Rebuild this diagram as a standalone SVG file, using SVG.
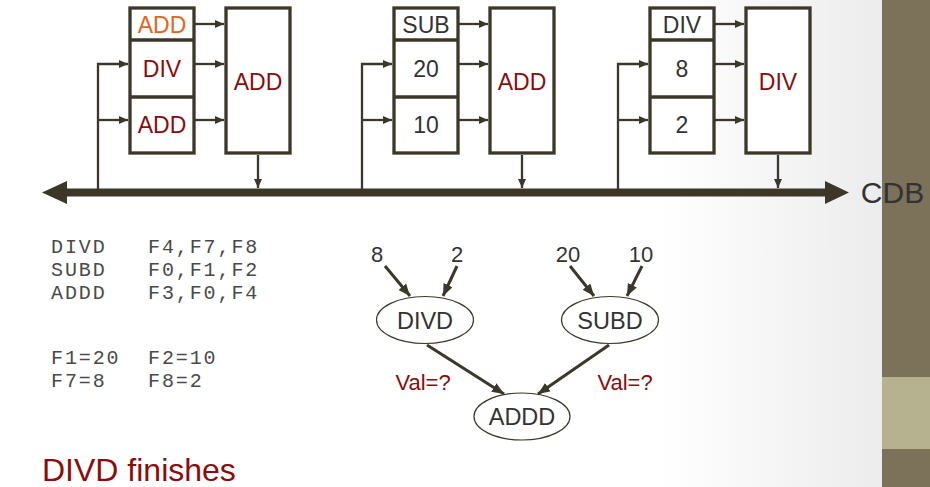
<svg xmlns="http://www.w3.org/2000/svg" width="930" height="487" viewBox="0 0 930 487">
<style>
.box{fill:#fff;stroke:#3b3829;stroke-width:3.3}
.div{stroke:#3b3829;stroke-width:3.3}
.wire{fill:none;stroke:#3b3829;stroke-width:2.3}
.edge{fill:none;stroke:#3b3829;stroke-width:3}
.ell{fill:#fff;stroke:#3b3829;stroke-width:1.2}
.t{font-family:"Liberation Sans",Arial,sans-serif;text-anchor:middle}
.bx{font-size:23px}
.gl{font-size:23.5px}
.num{font-size:22px}
.dk{fill:#333}
.rd{fill:#8c0c0c}
.or{fill:#e2661c}
.mono{font-family:"Liberation Mono","Courier New",monospace;font-size:20px;letter-spacing:1.9px;fill:#4a4a4a}
</style>
<defs>
<linearGradient id="bg" x1="0" y1="0" x2="1" y2="0">
<stop offset="0" stop-color="#fff"/>
<stop offset="0.75" stop-color="#fff"/>
<stop offset="1" stop-color="#ececec"/>
</linearGradient>
<marker id="ah" markerUnits="userSpaceOnUse" markerWidth="10" markerHeight="10" refX="9" refY="4" orient="auto">
<path d="M0,0 L9,4 L0,8 z" fill="#3b3829"/>
</marker>
<marker id="ag" markerUnits="userSpaceOnUse" markerWidth="14" markerHeight="12" refX="12" refY="5" orient="auto">
<path d="M0,0 L12,5 L0,10 z" fill="#3b3829"/>
</marker>
</defs>
<rect x="0" y="0" width="882" height="487" fill="url(#bg)"/>
<g id="sidebar">
<rect x="882" y="0" width="48" height="377" fill="#7b7259"/>
<rect x="882" y="377" width="48" height="72" fill="#b6b18f"/>
<rect x="882" y="449" width="48" height="38" fill="#7b7259"/>
</g>

<g id="connectors">
<!-- CDB bus -->
<line x1="64" y1="192.5" x2="828" y2="192.5" stroke="#3b3829" stroke-width="8"/>
<polygon points="42,192.5 67,181 67,204" fill="#3b3829"/>
<polygon points="849,192.5 825,181 825,204" fill="#3b3829"/>
<!-- left unit -->
<polyline class="wire" points="98,192 98,64 128,64" marker-end="url(#ah)"/>
<line class="wire" x1="98" y1="120" x2="128" y2="120" marker-end="url(#ah)"/>
<line class="wire" x1="195" y1="24" x2="224" y2="24" marker-end="url(#ah)"/>
<line class="wire" x1="195" y1="64" x2="224" y2="64" marker-end="url(#ah)"/>
<line class="wire" x1="195" y1="120" x2="224" y2="120" marker-end="url(#ah)"/>
<line class="wire" x1="258" y1="155" x2="258" y2="188" marker-end="url(#ah)"/>
<!-- middle unit -->
<polyline class="wire" points="362,192 362,64 392,64" marker-end="url(#ah)"/>
<line class="wire" x1="362" y1="120" x2="392" y2="120" marker-end="url(#ah)"/>
<line class="wire" x1="459" y1="24" x2="488" y2="24" marker-end="url(#ah)"/>
<line class="wire" x1="459" y1="64" x2="488" y2="64" marker-end="url(#ah)"/>
<line class="wire" x1="459" y1="120" x2="488" y2="120" marker-end="url(#ah)"/>
<line class="wire" x1="522" y1="155" x2="522" y2="188" marker-end="url(#ah)"/>
<!-- right unit -->
<polyline class="wire" points="618,192 618,64 648,64" marker-end="url(#ah)"/>
<line class="wire" x1="618" y1="120" x2="648" y2="120" marker-end="url(#ah)"/>
<line class="wire" x1="715" y1="24" x2="744" y2="24" marker-end="url(#ah)"/>
<line class="wire" x1="715" y1="64" x2="744" y2="64" marker-end="url(#ah)"/>
<line class="wire" x1="715" y1="120" x2="744" y2="120" marker-end="url(#ah)"/>
<line class="wire" x1="778" y1="155" x2="778" y2="188" marker-end="url(#ah)"/>
<!-- dataflow graph -->
<line class="edge" x1="385" y1="266" x2="410" y2="296" marker-end="url(#ag)"/>
<line class="edge" x1="457" y1="266" x2="443" y2="296" marker-end="url(#ag)"/>
<line class="edge" x1="570" y1="266" x2="594" y2="296" marker-end="url(#ag)"/>
<line class="edge" x1="642" y1="266" x2="627" y2="296" marker-end="url(#ag)"/>
<line class="edge" x1="427" y1="345" x2="504" y2="394" marker-end="url(#ag)"/>
<line class="edge" x1="609" y1="345" x2="538" y2="394" marker-end="url(#ag)"/>
</g>

<g id="rs-add">
<rect class="box" x="130" y="8" width="64" height="145"/>
<line class="div" x1="130" y1="40" x2="194" y2="40"/>
<line class="div" x1="130" y1="97" x2="194" y2="97"/>
<text class="t bx or" x="162" y="33">ADD</text>
<text class="t bx rd" x="162" y="77">DIV</text>
<text class="t bx rd" x="162" y="133">ADD</text>
</g>
<g id="fu-add1">
<rect class="box" x="226" y="8" width="64" height="145"/>
<text class="t bx rd" x="258" y="90">ADD</text>
</g>

<g id="rs-sub">
<rect class="box" x="394" y="8" width="64" height="145"/>
<line class="div" x1="394" y1="40" x2="458" y2="40"/>
<line class="div" x1="394" y1="97" x2="458" y2="97"/>
<text class="t bx dk" x="426" y="33">SUB</text>
<text class="t bx dk" x="426" y="77">20</text>
<text class="t bx dk" x="426" y="133">10</text>
</g>
<g id="fu-add2">
<rect class="box" x="490" y="8" width="64" height="145"/>
<text class="t bx rd" x="522" y="90">ADD</text>
</g>

<g id="rs-div">
<rect class="box" x="650" y="8" width="64" height="145"/>
<line class="div" x1="650" y1="40" x2="714" y2="40"/>
<line class="div" x1="650" y1="97" x2="714" y2="97"/>
<text class="t bx dk" x="682" y="33">DIV</text>
<text class="t bx dk" x="682" y="77">8</text>
<text class="t bx dk" x="682" y="133">2</text>
</g>
<g id="fu-div">
<rect class="box" x="746" y="8" width="64" height="145"/>
<text class="t bx rd" x="778" y="90">DIV</text>
</g>

<g id="cdb-label">
<text class="t dk" x="892.5" y="203" style="font-size:30px">CDB</text>
</g>

<g id="code">
<text class="mono" x="51" y="253">DIVD</text><text class="mono" x="148" y="253">F4,F7,F8</text>
<text class="mono" x="51" y="276">SUBD</text><text class="mono" x="148" y="276">F0,F1,F2</text>
<text class="mono" x="51" y="299">ADDD</text><text class="mono" x="148" y="299">F3,F0,F4</text>
<text class="mono" x="51" y="364">F1=20</text><text class="mono" x="148" y="364">F2=10</text>
<text class="mono" x="51" y="387">F7=8</text><text class="mono" x="148" y="387">F8=2</text>
</g>

<g id="in-8"><text class="t dk num" x="377" y="262">8</text></g>
<g id="in-2"><text class="t dk num" x="457" y="262">2</text></g>
<g id="in-20"><text class="t dk num" x="568" y="262">20</text></g>
<g id="in-10"><text class="t dk num" x="641" y="262">10</text></g>
<g id="divd">
<ellipse class="ell" cx="425" cy="320" rx="48.5" ry="23.5"/>
<text class="t dk gl" x="425" y="329">DIVD</text>
</g>
<g id="subd">
<ellipse class="ell" cx="610" cy="320" rx="48.5" ry="23.5"/>
<text class="t dk gl" x="610" y="329">SUBD</text>
</g>
<g id="addd">
<ellipse class="ell" cx="522" cy="416.5" rx="48" ry="23.5"/>
<text class="t dk gl" x="522" y="425">ADDD</text>
</g>
<g id="val-left"><text class="t rd num" x="423" y="390">Val=?</text></g>
<g id="val-right"><text class="t rd num" x="625" y="390">Val=?</text></g>

<g id="caption">
<text class="rd" x="42" y="481" style="font-family:'Liberation Sans',Arial,sans-serif;font-size:32px">DIVD finishes</text>
</g>
</svg>
